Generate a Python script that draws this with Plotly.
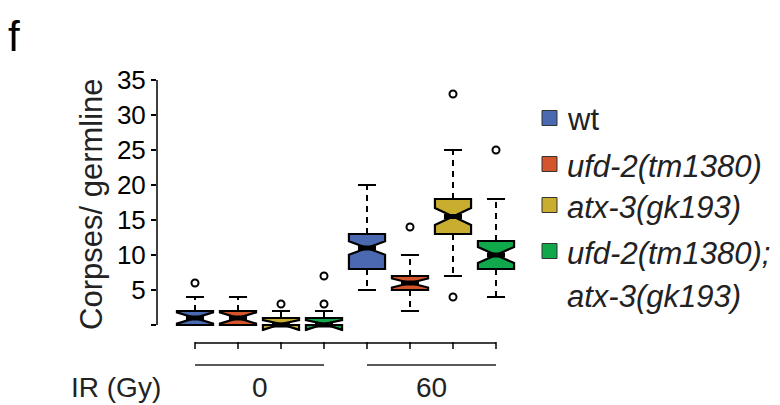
import plotly.graph_objects as go

# the page body has an 8px margin, so the figure starts 8px in; the window crops its far edges
PAGE_OFF = 8
W, H = 780 - PAGE_OFF, 405 - PAGE_OFF

# ---------------- data ----------------
doses = ["0", "60"]
genotypes = ["wt", "ufd-2(tm1380)", "atx-3(gk193)", "ufd-2(tm1380); atx-3(gk193)"]
italic_names = [False, True, True, True]
colors = ["#4a69b1", "#d4552c", "#c9ad2f", "#10a84b"]

# values per genotype, listed as [0 Gy, 60 Gy]
wt_stats = dict(lower=[0, 5], q1=[0, 8], median=[1, 11], q3=[2, 13], upper=[4, 20], notch=[0.8, 0.95])
ufd2_stats = dict(lower=[0, 2], q1=[0, 5], median=[1, 6], q3=[2, 7], upper=[4, 10], notch=[0.8, 0.65])
atx3_stats = dict(lower=[0, 7], q1=[0, 13], median=[0, 15.5], q3=[1, 18], upper=[2, 25], notch=[0.7, 1.2])
double_stats = dict(lower=[0, 4], q1=[0, 8], median=[0, 10], q3=[1, 12], upper=[2, 18], notch=[0.7, 1.15])
stats = [wt_stats, ufd2_stats, atx3_stats, double_stats]

wt_outliers = [[6], []]
ufd2_outliers = [[], [14]]
atx3_outliers = [[3], [33, 4]]
double_outliers = [[3, 7], [25]]
outliers = [wt_outliers, ufd2_outliers, atx3_outliers, double_outliers]

y_tickvals = [0, 5, 10, 15, 20, 25, 30, 35]
y_ticktext = ["", "5", "10", "15", "20", "25", "30", "35"]

# ---------------- layout helpers (pixel targets in the 780x405 window) ----------------
FONT = "Liberation Sans, Arial, Helvetica, sans-serif"
def fx(px):
    return (px - PAGE_OFF) / W
def fy(py):
    return 1 - (py - PAGE_OFF) / H

n_g = len(genotypes)
positions = [[d * n_g + g + 1 for d in range(len(doses))] for g in range(n_g)]
all_pos = sorted(p for row in positions for p in row)

X_FIRST_PX, X_STEP_PX = 195, 43.0
PLOT_L_PX, PLOT_R_PX = 157, 520
x_last_px = X_FIRST_PX + X_STEP_PX * (all_pos[-1] - all_pos[0])
x_range = [all_pos[0] - (X_FIRST_PX - PLOT_L_PX) / X_STEP_PX,
           all_pos[-1] + (PLOT_R_PX - x_last_px) / X_STEP_PX]

Y0_PX, Y_STEP_PX = 325, 7.0
y_range = [-0.9, 35.4]
y_dom = [fy(Y0_PX - y_range[0] * Y_STEP_PX), fy(Y0_PX - y_range[1] * Y_STEP_PX)]

BOX_W = 0.84
HALF_NOTCH = BOX_W / 4

fig = go.Figure()

for g in range(n_g):
    s = stats[g]
    xs = positions[g]
    fig.add_trace(go.Box(
        x=xs, q1=s["q1"], median=s["median"], q3=s["q3"],
        lowerfence=s["q1"], upperfence=s["q3"],
        notched=True, notchspan=s["notch"], notchwidth=0.5,
        width=BOX_W, whiskerwidth=0.5,
        fillcolor=colors[g], line=dict(color="black", width=2.2),
        showlegend=False, hoverinfo="skip",
    ))
    # dashed whiskers
    wx, wy = [], []
    for i, p in enumerate(xs):
        wx += [p, p, None, p, p, None]
        wy += [s["q3"][i], s["upper"][i], None, s["q1"][i], s["lower"][i], None]
    fig.add_trace(go.Scatter(x=wx, y=wy, mode="lines", showlegend=False, hoverinfo="skip",
                             line=dict(color="black", width=2, dash="6px,5px")))
    # whisker caps
    cx, cy = [], []
    for i, p in enumerate(xs):
        for v in (s["upper"][i], s["lower"][i]):
            cx += [p - BOX_W / 4, p + BOX_W / 4, None]
            cy += [v, v, None]
    fig.add_trace(go.Scatter(x=cx, y=cy, mode="lines", showlegend=False, hoverinfo="skip",
                             line=dict(color="black", width=2)))
    # thick medians
    mx, my = [], []
    for i, p in enumerate(xs):
        mx += [p - HALF_NOTCH, p + HALF_NOTCH, None]
        my += [s["median"][i], s["median"][i], None]
    fig.add_trace(go.Scatter(x=mx, y=my, mode="lines", showlegend=False, hoverinfo="skip",
                             line=dict(color="black", width=5)))
    # outliers
    ox, oy = [], []
    for i, p in enumerate(xs):
        for v in outliers[g][i]:
            ox.append(p)
            oy.append(v)
    fig.add_trace(go.Scatter(x=ox, y=oy, mode="markers", showlegend=False, hoverinfo="skip",
                             marker=dict(symbol="circle-open", size=7, color="black",
                                         line=dict(width=2, color="black"))))

shapes = []
annotations = []

# y axis line (bracket from 0 to 35)
shapes.append(dict(type="line", xref="paper", yref="y", x0=fx(PLOT_L_PX), x1=fx(PLOT_L_PX),
                   y0=y_tickvals[0], y1=y_tickvals[-1], line=dict(color="black", width=1.5)))

# bottom tick axis through the box positions
AX_PX, TICK_LEN = 343, 6
shapes.append(dict(type="line", xref="x", yref="paper", x0=all_pos[0], x1=all_pos[-1],
                   y0=fy(AX_PX), y1=fy(AX_PX), line=dict(color="black", width=1.5)))
for p in all_pos:
    shapes.append(dict(type="line", xref="x", yref="paper", x0=p, x1=p,
                       y0=fy(AX_PX - 1), y1=fy(AX_PX + TICK_LEN), line=dict(color="black", width=1.5)))

# group lines and labels
for d, dose in enumerate(doses):
    grp = [positions[g][d] for g in range(n_g)]
    shapes.append(dict(type="line", xref="x", yref="paper", x0=min(grp), x1=max(grp),
                       y0=fy(365), y1=fy(365), line=dict(color="#222222", width=1.5)))
    annotations.append(dict(text=dose, xref="x", yref="paper", x=sum(grp) / len(grp), y=fy(387),
                            xanchor="center", yanchor="middle", showarrow=False,
                            font=dict(family=FONT, size=28, color="#222222")))

annotations.append(dict(text="IR (Gy)", xref="paper", yref="paper", x=fx(116), y=fy(387),
                        xanchor="center", yanchor="middle", showarrow=False,
                        font=dict(family=FONT, size=28, color="#222222")))

# y axis title
annotations.append(dict(text="Corpses/ germline", xref="paper", yref="paper", x=fx(91), y=fy(204),
                        textangle=-90, xanchor="center", yanchor="middle", showarrow=False,
                        font=dict(family=FONT, size=31, color="#222222")))

# panel letter
annotations.append(dict(text="f", xref="paper", yref="paper", x=fx(14), y=fy(37),
                        xanchor="center", yanchor="middle", showarrow=False,
                        font=dict(family=FONT, size=42, color="black")))

# legend
LEG_SW_X0, LEG_SW = 542, 15
LEG_TEXT_X = 565
leg_rows_px = [118, 164, 205, 251]
LINE_GAP = 43
for g, name in enumerate(genotypes):
    yc = leg_rows_px[g]
    shapes.append(dict(type="rect", xref="paper", yref="paper",
                       x0=fx(LEG_SW_X0), x1=fx(LEG_SW_X0 + LEG_SW),
                       y0=fy(yc + LEG_SW / 2), y1=fy(yc - LEG_SW / 2),
                       fillcolor=colors[g], line=dict(color="#333333", width=1)))
    parts = name.split("; ")
    for k, part in enumerate(parts):
        txt = part + (";" if k < len(parts) - 1 else "")
        if italic_names[g]:
            txt = "<i>" + txt + "</i>"
        annotations.append(dict(text=txt, xref="paper", yref="paper", x=fx(LEG_TEXT_X),
                                y=fy(yc + 2 + k * LINE_GAP), xanchor="left", yanchor="middle",
                                showarrow=False, font=dict(family=FONT, size=31, color="#222222")))

fig.update_layout(
    width=W, height=H,
    margin=dict(l=0, r=0, t=0, b=0, autoexpand=False),
    paper_bgcolor="white", plot_bgcolor="white",
    showlegend=False,
    xaxis=dict(domain=[fx(PLOT_L_PX), fx(PLOT_R_PX)], range=x_range, visible=False,
               showgrid=False, zeroline=False),
    yaxis=dict(domain=y_dom, range=y_range, anchor="x", showline=False, showgrid=False,
               zeroline=False, ticks="outside", ticklen=5, tickwidth=1.5, tickcolor="black",
               tickvals=y_tickvals, ticktext=y_ticktext,
               tickfont=dict(family=FONT, size=26, color="black")),
    shapes=shapes,
    annotations=annotations,
)

fig.write_html("out.html")
